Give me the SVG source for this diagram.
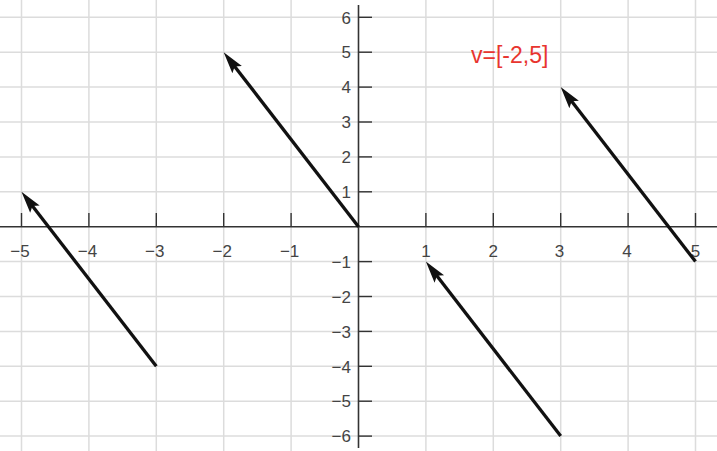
<svg xmlns="http://www.w3.org/2000/svg" width="717" height="451" viewBox="0 0 717 451">
<style>
.grid line{stroke:#dcdcdc;stroke-width:1.5}
.axis{stroke:#333;stroke-width:1.6}
.tick line{stroke:#333;stroke-width:1.4}
.lbl{font-family:"Liberation Sans",Arial,sans-serif;font-size:17px;fill:#444}
.xl{text-anchor:middle}
.yl{text-anchor:end}
.vec{stroke:#111;stroke-width:3.3;fill:none;marker-end:url(#ah)}
.red{font-family:"Liberation Sans",Arial,sans-serif;font-size:23px;fill:#e8352f}
</style>
<defs>
<marker id="ah" markerUnits="userSpaceOnUse" markerWidth="26" markerHeight="16" viewBox="0 -8 26 16" refX="11" refY="0" orient="auto">
<path d="M0,-6 L22,0 L0,6 L4,0 Z" fill="#111"/>
</marker>
</defs>
<rect width="717" height="451" fill="#fff"/>
<g id="grid" class="grid">
<line x1="21.5" y1="0" x2="21.5" y2="451"/>
<line x1="88.9" y1="0" x2="88.9" y2="451"/>
<line x1="156.3" y1="0" x2="156.3" y2="451"/>
<line x1="223.7" y1="0" x2="223.7" y2="451"/>
<line x1="291.1" y1="0" x2="291.1" y2="451"/>
<line x1="425.9" y1="0" x2="425.9" y2="451"/>
<line x1="493.3" y1="0" x2="493.3" y2="451"/>
<line x1="560.7" y1="0" x2="560.7" y2="451"/>
<line x1="628.1" y1="0" x2="628.1" y2="451"/>
<line x1="695.5" y1="0" x2="695.5" y2="451"/>
<line x1="0" y1="17.3" x2="717" y2="17.3"/>
<line x1="0" y1="52.2" x2="717" y2="52.2"/>
<line x1="0" y1="87.1" x2="717" y2="87.1"/>
<line x1="0" y1="122" x2="717" y2="122"/>
<line x1="0" y1="156.9" x2="717" y2="156.9"/>
<line x1="0" y1="191.8" x2="717" y2="191.8"/>
<line x1="0" y1="261.6" x2="717" y2="261.6"/>
<line x1="0" y1="296.5" x2="717" y2="296.5"/>
<line x1="0" y1="331.4" x2="717" y2="331.4"/>
<line x1="0" y1="366.3" x2="717" y2="366.3"/>
<line x1="0" y1="401.2" x2="717" y2="401.2"/>
<line x1="0" y1="436.1" x2="717" y2="436.1"/>
</g>
<g id="axes">
<line class="axis" x1="0" y1="226.7" x2="717" y2="226.7"/>
<line class="axis" x1="358.5" y1="5" x2="358.5" y2="448"/>
</g>
<g id="ticks" class="tick">
<line x1="21.5" y1="226.7" x2="21.5" y2="213"/>
<line x1="88.9" y1="226.7" x2="88.9" y2="213"/>
<line x1="156.3" y1="226.7" x2="156.3" y2="213"/>
<line x1="223.7" y1="226.7" x2="223.7" y2="213"/>
<line x1="291.1" y1="226.7" x2="291.1" y2="213"/>
<line x1="425.9" y1="226.7" x2="425.9" y2="213"/>
<line x1="493.3" y1="226.7" x2="493.3" y2="213"/>
<line x1="560.7" y1="226.7" x2="560.7" y2="213"/>
<line x1="628.1" y1="226.7" x2="628.1" y2="213"/>
<line x1="695.5" y1="226.7" x2="695.5" y2="213"/>
<line x1="358.5" y1="17.3" x2="372" y2="17.3"/>
<line x1="358.5" y1="52.2" x2="372" y2="52.2"/>
<line x1="358.5" y1="87.1" x2="372" y2="87.1"/>
<line x1="358.5" y1="122" x2="372" y2="122"/>
<line x1="358.5" y1="156.9" x2="372" y2="156.9"/>
<line x1="358.5" y1="191.8" x2="372" y2="191.8"/>
<line x1="358.5" y1="261.6" x2="372" y2="261.6"/>
<line x1="358.5" y1="296.5" x2="372" y2="296.5"/>
<line x1="358.5" y1="331.4" x2="372" y2="331.4"/>
<line x1="358.5" y1="366.3" x2="372" y2="366.3"/>
<line x1="358.5" y1="401.2" x2="372" y2="401.2"/>
<line x1="358.5" y1="436.1" x2="372" y2="436.1"/>
</g>
<g id="xlabels" class="lbl xl">
<text x="20" y="256.5">−5</text>
<text x="87.4" y="256.5">−4</text>
<text x="154.8" y="256.5">−3</text>
<text x="222.2" y="256.5">−2</text>
<text x="289.6" y="256.5">−1</text>
<text x="425.9" y="256.5">1</text>
<text x="493.3" y="256.5">2</text>
<text x="559.5" y="256.5">3</text>
<text x="627" y="256.5">4</text>
<text x="695.5" y="256.5">5</text>
</g>
<g id="ylabels" class="lbl yl">
<text x="351" y="23.5">6</text>
<text x="351" y="58.4">5</text>
<text x="351" y="93.3">4</text>
<text x="351" y="128.2">3</text>
<text x="351" y="163.1">2</text>
<text x="351" y="198">1</text>
<text x="351" y="267.8">−1</text>
<text x="351" y="302.7">−2</text>
<text x="351" y="337.6">−3</text>
<text x="351" y="372.5">−4</text>
<text x="351" y="407.4">−5</text>
<text x="351" y="442.3">−6</text>
</g>
<g id="connectors">
<line id="vecA" class="vec" x1="358.5" y1="226.7" x2="230.4" y2="60.9"/>
<line id="vecB" class="vec" x1="156.3" y1="366.3" x2="28.2" y2="200.5"/>
<line id="vecC" class="vec" x1="560.7" y1="436.1" x2="432.6" y2="270.3"/>
<line id="vecD" class="vec" x1="695.5" y1="261.6" x2="567.4" y2="95.8"/>
</g>
<g id="label-v">
<text class="red" x="471" y="62.5">v=[-2,5]</text>
</g>
</svg>
